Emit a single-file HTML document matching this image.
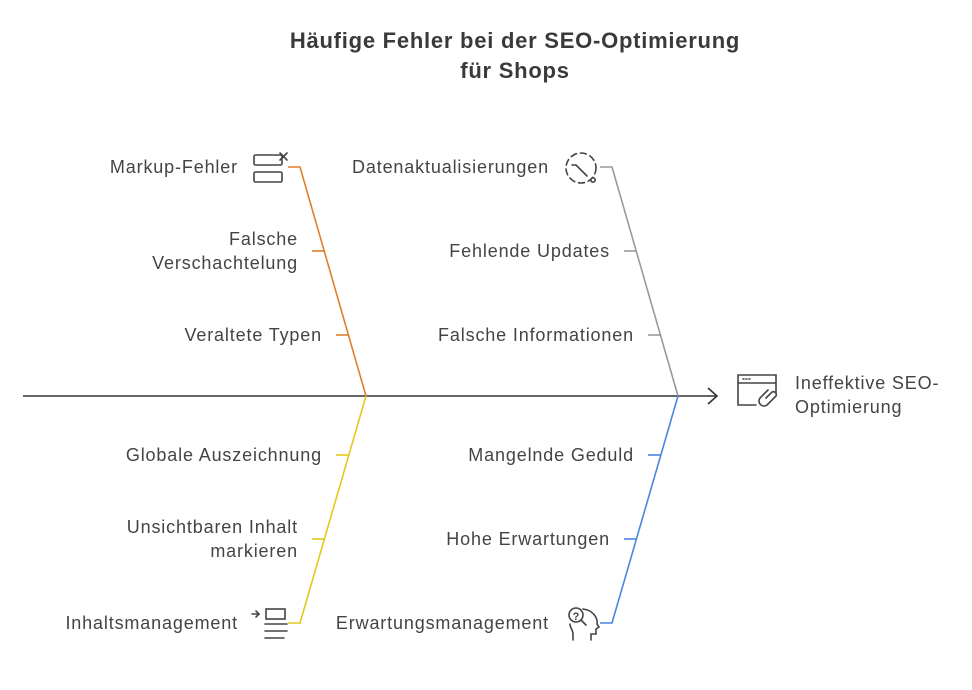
<!DOCTYPE html>
<html><head><meta charset="utf-8"><style>
html,body{margin:0;padding:0;background:#fff;}
svg{display:block;}
text{font-family:"Liberation Sans",sans-serif;fill:#444;font-size:18px;letter-spacing:0.85px;}
</style></head><body>
<svg width="972" height="690" viewBox="0 0 972 690" xmlns="http://www.w3.org/2000/svg">
<text x="515" y="48" text-anchor="middle" style="font-weight:bold;font-size:22px;fill:#3a3a3a;letter-spacing:0.75px">Häufige Fehler bei der SEO-Optimierung</text>
<text x="515" y="78" text-anchor="middle" style="font-weight:bold;font-size:22px;fill:#3a3a3a;letter-spacing:0.75px">für Shops</text>

<line x1="23" y1="396" x2="717" y2="396" stroke="#333" stroke-width="1.6"/>
<polyline points="708,388 717,396 708,404" fill="none" stroke="#333" stroke-width="1.6"/>

<g fill="none" stroke-width="1.6">
<polyline points="288,167 300,167 366,396" stroke="#e07f2a"/>
<line x1="312" y1="251" x2="324" y2="251" stroke="#e07f2a"/>
<line x1="336" y1="335" x2="348" y2="335" stroke="#e07f2a"/>
<polyline points="600,167 612,167 678,396" stroke="#999"/>
<line x1="624" y1="251" x2="636" y2="251" stroke="#999"/>
<line x1="648" y1="335" x2="660" y2="335" stroke="#999"/>
<polyline points="288,623 300,623 366,396" stroke="#e3c81e"/>
<line x1="336" y1="455" x2="348" y2="455" stroke="#e3c81e"/>
<line x1="312" y1="539" x2="324" y2="539" stroke="#e3c81e"/>
<polyline points="600,623 612,623 678,396" stroke="#4a86e0"/>
<line x1="648" y1="455" x2="660" y2="455" stroke="#4a86e0"/>
<line x1="624" y1="539" x2="636" y2="539" stroke="#4a86e0"/>
</g>

<g text-anchor="end">
<text x="238" y="173">Markup-Fehler</text>
<text x="298" y="245">Falsche</text>
<text x="298" y="269">Verschachtelung</text>
<text x="322" y="341">Veraltete Typen</text>
<text x="549" y="173">Datenaktualisierungen</text>
<text x="610" y="257">Fehlende Updates</text>
<text x="634" y="341">Falsche Informationen</text>
<text x="322" y="461">Globale Auszeichnung</text>
<text x="298" y="533">Unsichtbaren Inhalt</text>
<text x="298" y="557">markieren</text>
<text x="238" y="629">Inhaltsmanagement</text>
<text x="634" y="461">Mangelnde Geduld</text>
<text x="610" y="545">Hohe Erwartungen</text>
<text x="549" y="629">Erwartungsmanagement</text>
</g>
<text x="795" y="389">Ineffektive SEO-</text>
<text x="795" y="413">Optimierung</text>

<g fill="none" stroke="#444" stroke-width="1.6" stroke-linecap="round">
<rect x="254" y="155" width="28" height="10" rx="1.5"/>
<rect x="254" y="172" width="28" height="10" rx="1.5"/>
<line x1="280" y1="153" x2="287" y2="160"/><line x1="287" y1="153" x2="280" y2="160"/>
<circle cx="581" cy="168" r="15" stroke-dasharray="6 4"/>
<polyline points="572,165 576,165 587,176"/>
<circle cx="593" cy="180" r="2.2"/>
<line x1="252" y1="614" x2="259" y2="614"/><polyline points="256,611 259,614 256,617"/>
<rect x="266" y="609" width="19" height="10"/>
<line x1="265" y1="624" x2="287" y2="624"/>
<line x1="265" y1="631" x2="287" y2="631"/>
<line x1="265" y1="638" x2="284" y2="638"/>
<circle cx="576" cy="615" r="7"/>
<line x1="581" y1="620" x2="586" y2="625"/>
<path d="M583,609 C592,610 598,617 597,624 L599,627 L596,629 L596,634 L591,634 L591,640"/>
<path d="M570,624 C570,628 573,630 573,634 L573,640"/>
<path d="M756,405 L738,405 L738,375 L776,375 L776,393"/>
<line x1="738" y1="383" x2="776" y2="383"/>
<line x1="743" y1="379" x2="744" y2="379"/><line x1="746" y1="379" x2="747" y2="379"/><line x1="749" y1="379" x2="750" y2="379"/>
<path d="M766,398 l6,-6 a3,3 0 0 1 4,4 l-9,9 a5,5 0 0 1 -7,-7 l8,-8"/>
</g>
<text x="576" y="620" text-anchor="middle" style="font-size:11px;font-weight:bold;letter-spacing:0">?</text>
</svg>
</body></html>
